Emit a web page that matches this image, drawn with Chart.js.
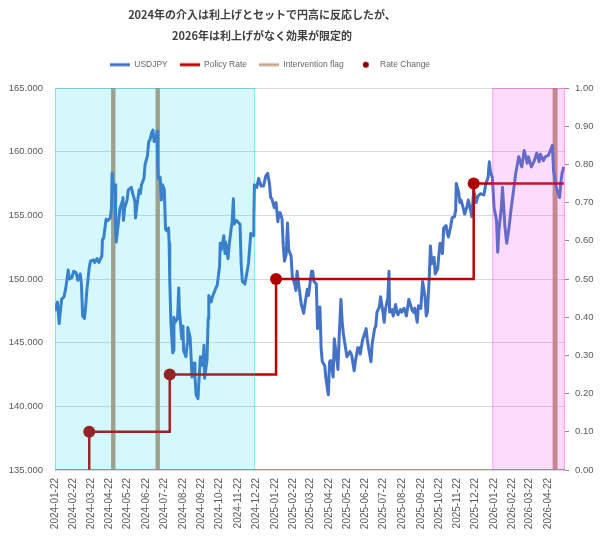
<!DOCTYPE html>
<html>
<head>
<meta charset="utf-8">
<script src="https://cdn.jsdelivr.net/npm/chart.js@4/dist/chart.umd.min.js"></script>
<style>
  body { margin: 0; background: #fff; }
  canvas { display: block; }
</style>
</head>
<body>
<canvas id="chart" width="600" height="536"></canvas>
<script>
const titleLines = ['2024年の介入は利上げとセットで円高に反応したが、', '2026年は利上げがなく効果が限定的'];

// month ticks on the x axis
const tickLabels = [
  '2024-01-22', '2024-02-22', '2024-03-22', '2024-04-22', '2024-05-22', '2024-06-22',
  '2024-07-22', '2024-08-22', '2024-09-22', '2024-10-22', '2024-11-22', '2024-12-22',
  '2025-01-22', '2025-02-22', '2025-03-22', '2025-04-22', '2025-05-22', '2025-06-22',
  '2025-07-22', '2025-08-22', '2025-09-22', '2025-10-22', '2025-11-22', '2025-12-22',
  '2026-01-22', '2026-02-22', '2026-03-22', '2026-04-22'
];
const axisStart = '2024-01-22';
const axisEnd = '2026-05-20';

// USDJPY
const usdjpyDates = [
  '2024-01-22','2024-01-24','2024-01-26','2024-01-29','2024-01-31','2024-02-02','2024-02-06','2024-02-09',
  '2024-02-13','2024-02-15','2024-02-19','2024-02-22','2024-02-26','2024-02-29','2024-03-04','2024-03-06',
  '2024-03-08','2024-03-11','2024-03-13','2024-03-15','2024-03-19','2024-03-21','2024-03-26','2024-03-28',
  '2024-04-01','2024-04-04','2024-04-09','2024-04-10','2024-04-12','2024-04-16','2024-04-19','2024-04-23',
  '2024-04-25','2024-04-26','2024-04-29','2024-05-01','2024-05-02','2024-05-03','2024-05-07','2024-05-09',
  '2024-05-13','2024-05-14','2024-05-15','2024-05-17','2024-05-21','2024-05-23','2024-05-28','2024-05-30',
  '2024-06-03','2024-06-04','2024-06-06','2024-06-10','2024-06-12','2024-06-14','2024-06-18','2024-06-20',
  '2024-06-24','2024-06-26','2024-06-28','2024-07-01','2024-07-03','2024-07-05','2024-07-08','2024-07-10',
  '2024-07-11','2024-07-12','2024-07-15','2024-07-17','2024-07-19','2024-07-22','2024-07-24','2024-07-26',
  '2024-07-29','2024-07-30','2024-07-31','2024-08-02','2024-08-05','2024-08-06','2024-08-07','2024-08-09',
  '2024-08-13','2024-08-15','2024-08-16','2024-08-20','2024-08-22','2024-08-23','2024-08-27','2024-08-29',
  '2024-08-30','2024-09-03','2024-09-05','2024-09-06','2024-09-10','2024-09-11','2024-09-13','2024-09-16',
  '2024-09-18','2024-09-20','2024-09-24','2024-09-26','2024-09-27','2024-10-01','2024-10-03','2024-10-04',
  '2024-10-08','2024-10-10','2024-10-15','2024-10-18','2024-10-22','2024-10-23','2024-10-25','2024-10-29',
  '2024-10-31','2024-11-01','2024-11-05','2024-11-07','2024-11-12','2024-11-14','2024-11-15','2024-11-19',
  '2024-11-21','2024-11-25','2024-11-27','2024-11-29','2024-12-03','2024-12-05','2024-12-09','2024-12-11',
  '2024-12-13','2024-12-17','2024-12-18','2024-12-19','2024-12-23','2024-12-26','2024-12-30',
  '2025-01-03','2025-01-07','2025-01-10','2025-01-13','2025-01-15','2025-01-17','2025-01-21','2025-01-24',
  '2025-01-27','2025-01-29','2025-01-31','2025-02-03','2025-02-05','2025-02-07','2025-02-10','2025-02-12',
  '2025-02-14','2025-02-18','2025-02-20','2025-02-24','2025-02-26','2025-02-28','2025-03-04','2025-03-07',
  '2025-03-11','2025-03-13','2025-03-17','2025-03-19','2025-03-24','2025-03-26','2025-03-28','2025-04-01',
  '2025-04-03','2025-04-07','2025-04-09','2025-04-11','2025-04-15','2025-04-17','2025-04-21','2025-04-23',
  '2025-04-25','2025-04-29','2025-05-01','2025-05-05','2025-05-07','2025-05-09','2025-05-12','2025-05-14',
  '2025-05-16','2025-05-20','2025-05-22','2025-05-27','2025-05-30','2025-06-03','2025-06-05','2025-06-09',
  '2025-06-11','2025-06-13','2025-06-17','2025-06-19','2025-06-23','2025-06-25','2025-06-27','2025-07-01',
  '2025-07-03','2025-07-07','2025-07-09','2025-07-11','2025-07-15','2025-07-17','2025-07-21','2025-07-23',
  '2025-07-25','2025-07-29','2025-07-31','2025-08-01','2025-08-05','2025-08-07','2025-08-11','2025-08-13',
  '2025-08-15','2025-08-19','2025-08-21','2025-08-25','2025-08-27','2025-08-29','2025-09-02','2025-09-04',
  '2025-09-08','2025-09-10','2025-09-12','2025-09-16','2025-09-18','2025-09-22','2025-09-25','2025-09-29',
  '2025-10-01','2025-10-03','2025-10-06','2025-10-08','2025-10-10','2025-10-14','2025-10-16','2025-10-20',
  '2025-10-22','2025-10-24','2025-10-28','2025-10-30','2025-11-03','2025-11-05','2025-11-07','2025-11-11',
  '2025-11-13','2025-11-17','2025-11-19','2025-11-20','2025-11-24','2025-11-26','2025-11-28','2025-12-02',
  '2025-12-04','2025-12-08','2025-12-10','2025-12-12','2025-12-16','2025-12-19','2025-12-23','2025-12-26',
  '2025-12-30','2026-01-05','2026-01-08','2026-01-12','2026-01-14','2026-01-16','2026-01-19','2026-01-22',
  '2026-01-26','2026-01-28','2026-01-30','2026-02-03','2026-02-05','2026-02-09','2026-02-12','2026-02-16',
  '2026-02-19','2026-02-24','2026-02-27','2026-03-04','2026-03-09','2026-03-13','2026-03-18','2026-03-20',
  '2026-03-25','2026-03-30','2026-04-03','2026-04-07','2026-04-09','2026-04-14','2026-04-17','2026-04-22',
  '2026-04-24','2026-04-29','2026-05-01','2026-05-05','2026-05-08','2026-05-11','2026-05-13','2026-05-15',
  '2026-05-18'
];
const usdjpyValues = [
  148.1,147.6,148.2,146.5,147.5,148.4,148.6,149.3,
  150.7,150.0,150.1,150.6,150.5,149.9,150.4,149.6,
  147.1,146.9,147.8,149.1,150.9,151.4,151.5,151.3,
  151.6,151.3,151.8,153.1,153.2,154.7,154.6,154.8,
  155.6,158.3,156.8,157.4,153.6,152.9,154.6,155.5,
  156.1,156.4,154.6,155.6,156.2,157.0,157.2,156.8,
  156.1,154.8,155.6,157.0,156.7,157.4,157.9,159.0,
  159.7,160.8,160.9,161.5,161.7,160.8,160.9,161.6,
  158.9,157.9,158.0,156.2,157.4,157.0,153.9,153.8,
  154.0,152.8,150.0,146.5,144.2,144.4,147.0,146.6,
  146.9,149.3,147.6,145.3,146.3,144.4,143.9,144.9,
  146.2,145.4,143.4,142.3,143.4,142.3,140.9,140.6,
  142.3,143.9,143.2,144.8,142.2,143.6,146.9,148.7,
  148.2,148.6,149.2,149.5,151.0,152.8,152.3,153.4,
  152.0,152.9,151.6,152.7,154.6,156.3,154.3,154.6,
  154.5,154.3,151.1,149.8,149.6,150.1,151.2,152.4,
  153.6,153.4,154.7,157.4,157.2,157.9,157.3,
  157.3,158.1,158.3,157.5,156.4,156.3,155.6,156.0,
  154.5,155.2,155.2,154.7,152.6,151.4,152.0,154.4,
  152.3,151.8,150.2,149.6,149.1,150.6,149.1,148.0,
  147.3,148.0,149.2,148.7,150.6,150.6,149.8,149.6,
  146.1,147.8,144.6,143.5,143.2,142.2,140.9,143.5,
  143.6,142.3,145.3,143.7,142.9,145.4,148.4,146.7,
  145.7,144.5,143.9,144.3,144.0,142.8,143.5,144.6,
  144.6,144.1,145.2,145.5,146.1,145.2,144.6,143.5,
  144.9,146.1,146.3,147.4,147.8,148.6,147.4,146.6,
  147.6,148.5,150.6,147.4,147.6,147.1,148.0,147.4,
  147.2,147.6,147.4,147.7,147.4,147.1,148.4,148.1,
  147.5,147.4,147.7,146.6,147.9,147.7,149.8,148.6,
  147.1,147.4,150.1,152.6,151.2,151.7,150.4,150.8,
  151.9,152.8,152.0,154.0,154.2,153.6,153.3,154.2,
  154.8,154.9,155.4,157.5,156.8,156.0,156.2,155.5,
  155.1,155.7,156.2,155.8,154.9,157.0,156.0,156.5,
  156.7,156.6,157.4,158.0,159.2,158.4,158.0,155.6,
  154.6,152.1,153.8,155.6,157.2,154.1,152.8,154.1,
  155.4,157.2,158.3,159.6,158.8,160.1,159.1,159.6,
  158.8,159.3,159.9,159.2,159.8,159.3,159.6,159.7,
  159.9,160.5,158.5,157.3,156.8,156.4,157.5,158.3,
  158.8
];

// BOJ policy rate steps
const rateDates = ['2024-01-22', '2024-03-19', '2024-07-31', '2025-01-24', '2025-12-19', '2026-05-18'];
const rateValues = [-0.1, 0.1, 0.25, 0.5, 0.75, 0.75];

// rate hike markers
const changeDates = ['2024-03-19', '2024-07-31', '2025-01-24', '2025-12-19'];
const changeValues = [0.1, 0.25, 0.5, 0.75];

// intervention periods (flag = 1)
const interventionStart = ['2024-04-26', '2024-07-09', '2026-05-01'];
const interventionEnd = ['2024-04-30', '2024-07-13', '2026-05-06'];

// shaded periods
const shadeStart = ['2024-01-22', '2026-01-19'];
const shadeEnd = ['2024-12-20', '2026-05-20'];

const day = s => Date.parse(s + 'T00:00:00Z') / 864e5;
const dayLabel = v => new Date(Math.round(v) * 864e5).toISOString().slice(0, 10);

const usdPoints = usdjpyDates.map((d, i) => ({ x: day(d), y: usdjpyValues[i] }));
const ratePoints = rateDates.map((d, i) => ({ x: day(d), y: rateValues[i] }));
const changePoints = changeDates.map((d, i) => ({ x: day(d), y: changeValues[i] }));

const flagPoints = [{ x: day(axisStart), y: 0 }];
interventionStart.forEach((s, i) => {
  flagPoints.push({ x: day(s), y: 0 }, { x: day(s), y: 1 },
                  { x: day(interventionEnd[i]), y: 1 }, { x: day(interventionEnd[i]), y: 0 });
});
flagPoints.push({ x: day(axisEnd), y: 0 });

const colors = {
  usd: '#4472C4',
  rate: '#C00000',
  flag: '#BC977B',
  change: '#B00000'
};

function swatch(color, dot) {
  const c = document.createElement('canvas');
  c.width = 20; c.height = 10;
  const g = c.getContext('2d');
  g.fillStyle = color;
  if (dot) {
    g.beginPath(); g.arc(10, 5, 3, 0, Math.PI * 2); g.fill();
  } else {
    g.fillRect(0, 3.5, 20, 3);
  }
  return c;
}
const swatches = [swatch(colors.usd), swatch(colors.rate), swatch('#C9A890'), swatch('#8B0000', true)];

// translucent period boxes, painted over the series like the original
const shading = {
  id: 'shading',
  afterDatasetsDraw(chart) {
    const { ctx, chartArea: a, scales: { x } } = chart;
    const fills = ['rgba(0,215,235,0.17)', 'rgba(240,80,230,0.20)'];
    const edges = ['rgba(0,190,200,0.35)', 'rgba(220,60,210,0.35)'];
    shadeStart.forEach((s, i) => {
      const x0 = Math.max(a.left, x.getPixelForValue(day(s)));
      const x1 = Math.min(a.right, x.getPixelForValue(day(shadeEnd[i])));
      ctx.save();
      ctx.fillStyle = fills[i];
      ctx.fillRect(x0, a.top, x1 - x0, a.bottom - a.top);
      ctx.strokeStyle = edges[i];
      ctx.lineWidth = 1;
      ctx.strokeRect(x0 + 0.5, a.top + 0.5, x1 - x0 - 1, a.bottom - a.top - 1);
      ctx.restore();
    });
  }
};

// title and legend sit left of the canvas centre in the original
const headerShift = {
  id: 'headerShift',
  afterLayout(chart) {
    const t = chart.titleBlock;
    t.left -= 38; t.right -= 38;
    const lg = chart.legend;
    const pad = lg.options.labels.padding;
    const start = (lg.left + pad + lg.right - lg.lineWidths[0]) / 2;
    const dx = 110 - start;
    lg.left += dx; lg.right += dx;
    lg.top -= 9; lg.bottom -= 9;
  }
};

const tickFont = { family: "'Liberation Sans', sans-serif", size: 10 };

new Chart(document.getElementById('chart'), {
  type: 'line',
  data: {
    datasets: [
      {
        label: 'USDJPY', data: usdPoints, yAxisID: 'y',
        borderColor: colors.usd, backgroundColor: colors.usd, borderWidth: 3,
        borderJoinStyle: 'round', pointRadius: 0, order: 2
      },
      {
        label: 'Policy Rate', data: ratePoints, yAxisID: 'y1', stepped: true,
        borderColor: colors.rate, backgroundColor: colors.rate, borderWidth: 2.5,
        pointRadius: 0, order: 1
      },
      {
        label: 'Intervention flag', data: flagPoints, yAxisID: 'y1', fill: 'origin',
        borderColor: colors.flag, backgroundColor: colors.flag, borderWidth: 2,
        pointRadius: 0, order: 3
      },
      {
        label: 'Rate Change', data: changePoints, yAxisID: 'y1', showLine: false,
        borderColor: colors.change, backgroundColor: colors.change,
        pointRadius: 6, pointBorderWidth: 0, order: 0
      }
    ]
  },
  options: {
    responsive: false,
    animation: false,
    devicePixelRatio: 1,
    layout: { padding: 0 },
    plugins: {
      title: {
        display: true,
        text: titleLines,
        color: '#404040',
        font: { family: "'Noto Sans CJK JP', sans-serif", size: 11, weight: 'bold', lineHeight: 1.9 },
        padding: { top: 4.5, bottom: 11.2 }
      },
      legend: {
        display: true,
        labels: {
          color: '#666666',
          font: { family: "'Liberation Sans', sans-serif", size: 8.5 },
          usePointStyle: true,
          pointStyleWidth: 20,
          padding: 12,
          generateLabels(chart) {
            const items = Chart.defaults.plugins.legend.labels.generateLabels(chart);
            items.sort((a, b) => a.datasetIndex - b.datasetIndex);
            items.forEach(it => { it.pointStyle = swatches[it.datasetIndex]; });
            return items;
          }
        }
      },
      tooltip: { enabled: false }
    },
    scales: {
      x: {
        type: 'linear',
        min: day(axisStart),
        max: day(axisEnd),
        grid: { display: false, drawTicks: false },
        border: { display: false },
        afterBuildTicks(axis) {
          axis.ticks = tickLabels.map(s => ({ value: day(s) }));
        },
        afterFit(axis) { axis.height = 66; },
        ticks: {
          autoSkip: false,
          maxRotation: 90,
          minRotation: 90,
          padding: 8,
          color: '#595959',
          font: tickFont,
          callback: v => dayLabel(v)
        }
      },
      y: {
        position: 'left',
        min: 135,
        max: 165,
        grid: { color: '#D9D9D9', drawTicks: false },
        border: { display: false },
        afterFit(axis) { axis.width = 55; },
        ticks: {
          stepSize: 5,
          padding: 12,
          color: '#595959',
          font: { family: "'Liberation Sans', sans-serif", size: 9.5 },
          callback: v => v.toFixed(3)
        }
      },
      y1: {
        position: 'right',
        min: 0,
        max: 1,
        grid: { drawOnChartArea: false, tickLength: 4, tickColor: '#8C8C8C' },
        border: { display: false },
        afterFit(axis) { axis.width = 35; },
        ticks: {
          stepSize: 0.1,
          padding: 6,
          color: '#595959',
          font: { family: "'Liberation Sans', sans-serif", size: 9.5 },
          callback: v => v.toFixed(2)
        }
      }
    }
  },
  plugins: [shading, headerShift]
});
</script>
</body>
</html>
